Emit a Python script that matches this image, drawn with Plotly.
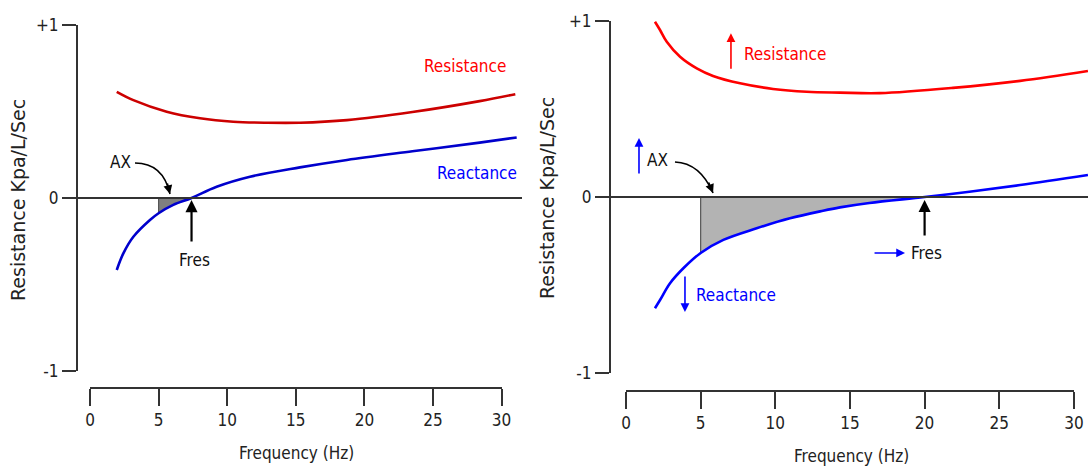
import plotly.graph_objects as go

W, H = 1088, 466

# ---------------- data ----------------
x_ticks = [0, 5, 10, 15, 20, 25, 30]
y_ticks = [-1, 0, 1]
y_tick_text = ["-1", "0", "+1"]

left_res_freq = [1.95, 3.16, 5.59, 8.02, 10.44, 12.88, 15.3, 18.73, 23.5, 28.4, 31.0]
left_res_val = [0.614, 0.566, 0.499, 0.461, 0.441, 0.435, 0.435, 0.45, 0.497, 0.56, 0.60]
left_rea_freq = [1.95, 2.43, 3.16, 4.37, 5, 6.07, 7.4, 9.23, 11.66, 15.3, 18.73, 23.5, 28.4, 31.1]
left_rea_val = [-0.416, -0.32, -0.224, -0.127, -0.088, -0.04, 0, 0.065, 0.123, 0.177, 0.22, 0.27, 0.32, 0.35]
left_fres = 7.4

right_res_freq = [1.94, 2.28, 2.73, 3.62, 4.74, 5.83, 7.64, 9.85, 12.1, 14.33, 17, 21.9, 26.4, 30.94]
right_res_val = [0.996, 0.949, 0.882, 0.797, 0.731, 0.688, 0.646, 0.614, 0.598, 0.593, 0.59, 0.62, 0.66, 0.716]
right_rea_freq = [1.94, 2.28, 2.95, 3.84, 5, 6.52, 8.75, 10.98, 13.2, 14.33, 16.3, 20, 23, 26.4, 30.94]
right_rea_val = [-0.632, -0.585, -0.49, -0.405, -0.318, -0.244, -0.178, -0.121, -0.078, -0.059, -0.034, 0, 0.03, 0.068, 0.125]
right_fres = 20

ax_start = 5

# ---------------- styling ----------------
FONT = "DejaVu Sans Condensed, DejaVu Sans, sans-serif"
TXT = 17
AXC = "#333333"


def px(x):
    return x / W


def py(y):
    return 1 - y / H


fig = go.Figure()


def segment(freq, val, lo, hi):
    xs = [f for f in freq if lo <= f <= hi]
    ys = [v for f, v in zip(freq, val) if lo <= f <= hi]
    return xs, ys


def add_panel(xa, ya, res_f, res_v, rea_f, rea_v, fres, res_col, rea_col, fill_col):
    fx, fy = segment(rea_f, rea_v, ax_start, fres)
    fig.add_trace(go.Scatter(x=fx, y=fy, mode="lines", line=dict(width=0, shape="spline"),
                             fill="tozeroy", fillcolor=fill_col, xaxis=xa, yaxis=ya,
                             hoverinfo="skip", showlegend=False))
    fig.add_trace(go.Scatter(x=[fx[0], fx[0]], y=[0, fy[0]], mode="lines",
                             line=dict(color="#555555", width=1.2), xaxis=xa, yaxis=ya,
                             hoverinfo="skip", showlegend=False))
    fig.add_trace(go.Scatter(x=res_f, y=res_v, mode="lines",
                             line=dict(color=res_col, width=2.6, shape="spline"),
                             xaxis=xa, yaxis=ya, showlegend=False))
    fig.add_trace(go.Scatter(x=rea_f, y=rea_v, mode="lines",
                             line=dict(color=rea_col, width=2.6, shape="spline"),
                             xaxis=xa, yaxis=ya, showlegend=False))


add_panel("x", "y", left_res_freq, left_res_val, left_rea_freq, left_rea_val, left_fres,
          "#cc0000", "#0000cc", "#808080")
add_panel("x2", "y2", right_res_freq, right_res_val, right_rea_freq, right_rea_val, right_fres,
          "#ff0000", "#0000ff", "#b3b3b3")

# empty traces so that the tick-only frequency axes get drawn
fig.add_trace(go.Scatter(x=[], y=[], xaxis="x3", yaxis="y", showlegend=False))
fig.add_trace(go.Scatter(x=[], y=[], xaxis="x4", yaxis="y2", showlegend=False))

# pixel geometry
L = dict(x0=90, px_per=13.72, dom=(63, 522), y_top=25, y_bot=371, yax=77, xaxis_y=388)
R = dict(x0=626, px_per=14.93, dom=(596, 1088), y_top=21, y_bot=373, yax=610, xaxis_y=391)


def data_range(p):
    return [(p["dom"][0] - p["x0"]) / p["px_per"], (p["dom"][1] - p["x0"]) / p["px_per"]]


tickfont = dict(family=FONT, size=TXT, color="#222222")
hidden_x = dict(visible=False, showgrid=False, zeroline=False)


def yaxis_cfg(p):
    return dict(domain=[py(p["y_bot"]), py(p["y_top"])], range=[-1, 1], anchor="free",
                position=px(p["yax"]), showline=True, linecolor=AXC, linewidth=2,
                ticks="outside", ticklen=14, tickwidth=2, tickcolor=AXC,
                tickvals=y_ticks, ticktext=y_tick_text, tickfont=tickfont,
                showgrid=False, zeroline=False, automargin=False)


def tick_xaxis_cfg(p):
    return dict(domain=[px(p["x0"]), px(p["x0"] + 30 * p["px_per"])], range=[0, 30],
                anchor="free", position=py(p["xaxis_y"]), showline=True, linecolor=AXC,
                linewidth=2, ticks="outside", ticklen=17, tickwidth=2, tickcolor=AXC,
                tickvals=x_ticks, tickfont=tickfont, showgrid=False, zeroline=False,
                automargin=False)


fig.update_layout(
    width=W, height=H, margin=dict(l=0, r=0, t=0, b=0, pad=0, autoexpand=False),
    paper_bgcolor="white", plot_bgcolor="rgba(0,0,0,0)",
    xaxis=dict(domain=[px(L["dom"][0]), px(L["dom"][1])], range=data_range(L), anchor="y", **hidden_x),
    xaxis2=dict(domain=[px(R["dom"][0]), px(R["dom"][1])], range=data_range(R), anchor="y2", **hidden_x),
    yaxis=yaxis_cfg(L),
    yaxis2=yaxis_cfg(R),
    xaxis3=tick_xaxis_cfg(L),
    xaxis4=tick_xaxis_cfg(R),
    showlegend=False,
)

# zero lines
for xr, yr in (("x", "y"), ("x2", "y2")):
    fig.add_shape(type="line", xref=xr + " domain", yref=yr, x0=0, x1=1, y0=0, y1=0,
                  line=dict(color=AXC, width=2), layer="above")

# curved AX arrows
fig.add_shape(type="path", xref="x", yref="y", path="M 3.28,0.202 Q 5.32,0.202 5.83,0.023",
              line=dict(color="black", width=1.6))
fig.add_shape(type="path", xref="x2", yref="y2", path="M 3.28,0.199 Q 4.96,0.193 5.83,0.023",
              line=dict(color="black", width=1.6))

ann = []


def text(xr, yr, x, y, s, color="#111111"):
    ann.append(dict(xref=xr, yref=yr, x=x, y=y, text=s, showarrow=False, xanchor="center",
                    yanchor="middle", font=dict(family=FONT, size=TXT, color=color)))


def arrow(xr, yr, x, y, dx, dy, color, width=2, head=2, size=1.1):
    ann.append(dict(xref=xr, yref=yr, x=x, y=y, ax=dx, ay=dy, text="", showarrow=True,
                    arrowhead=head, arrowsize=size, arrowwidth=width, arrowcolor=color,
                    standoff=0))


# left panel labels
text("x", "y", 27.3, 0.763, "Resistance", "#ff0000")
text("x", "y", 28.2, 0.145, "Reactance", "#0000ff")
text("x", "y", 2.19, 0.208, "AX")
text("x", "y", 7.65, -0.358, "Fres")
arrow("x", "y", 5.83, 0.023, -3, -12, "black", width=1.6)
arrow("x", "y", left_fres, -0.012, 0, 43, "black", width=2.2)

# right panel labels
text("x2", "y2", 10.65, 0.81, "Resistance", "#ff0000")
arrow("x2", "y2", 7.03, 0.93, 0, 37, "#ff0000", width=1.6)
text("x2", "y2", 2.08, 0.21, "AX")
arrow("x2", "y2", 0.87, 0.335, 0, 37, "#0000ff", width=1.6)
arrow("x2", "y2", 5.83, 0.023, -5, -12, "black", width=1.6)
text("x2", "y2", 7.37, -0.557, "Reactance", "#0000ff")
arrow("x2", "y2", 3.95, -0.653, 0, -37, "#0000ff", width=1.6)
arrow("x2", "y2", right_fres, -0.017, 0, 37, "black", width=2.2)
text("x2", "y2", 20.16, -0.318, "Fres")
arrow("x2", "y2", 18.69, -0.318, -32, 0, "#0000ff", width=1.6)

# axis titles
for cx, cy in ((296, 453), (851, 456)):
    ann.append(dict(xref="paper", yref="paper", x=px(cx), y=py(cy), text="Frequency (Hz)",
                    showarrow=False, xanchor="center", yanchor="middle",
                    font=dict(family=FONT, size=TXT, color="#222222")))
for cx, cy in ((18, 200), (547, 198)):
    ann.append(dict(xref="paper", yref="paper", x=px(cx), y=py(cy), text="Resistance Kpa/L/Sec",
                    showarrow=False, textangle=-90, xanchor="center", yanchor="middle",
                    font=dict(family="DejaVu Sans, sans-serif", size=19, color="#222222")))

fig.update_layout(annotations=ann)
fig.write_html(
    "out.html",
    config={"displayModeBar": False},
    post_script="document.body.style.margin='0';document.body.style.overflow='hidden';",
)
